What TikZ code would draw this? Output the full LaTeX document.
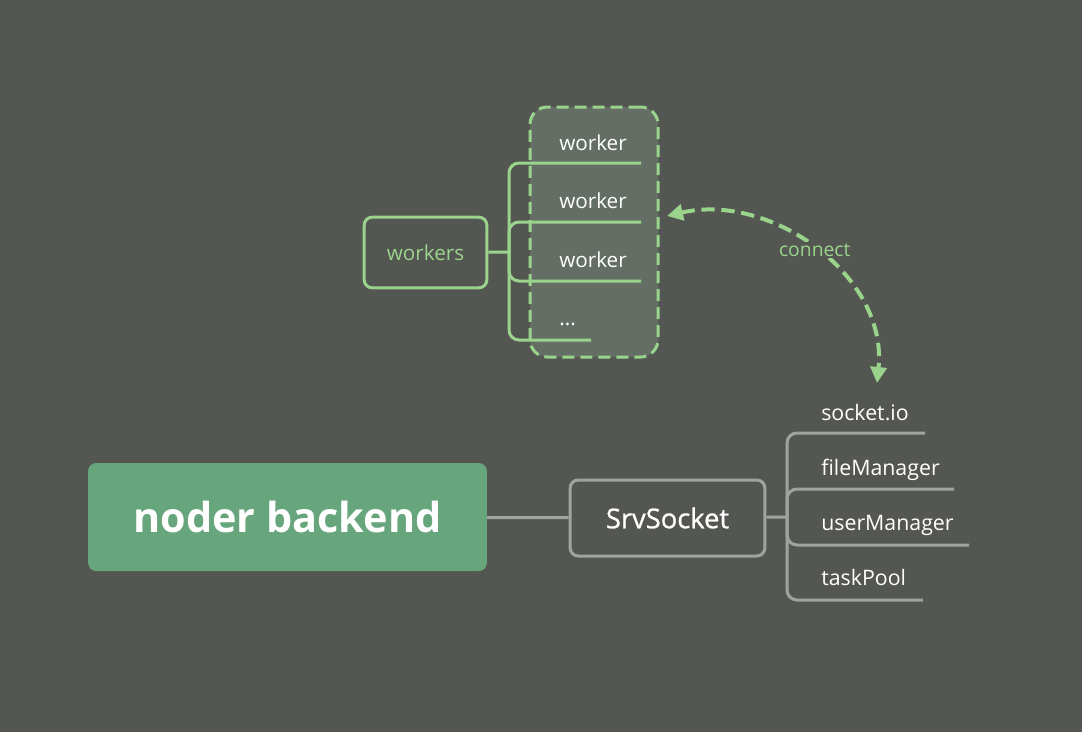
\documentclass[tikz,border=0pt]{standalone}
\usepackage{fontspec}
\setmainfont{Open Sans}
\newfontfamily\medfont{Open Sans}[FakeBold=0.8]
\usetikzlibrary{arrows.meta}
\definecolor{bg}{RGB}{84,86,82}
\definecolor{leafgreen}{RGB}{154,212,140}
\definecolor{maingreen}{RGB}{103,165,124}
\definecolor{branchgray}{RGB}{160,163,160}
\definecolor{poolfill}{RGB}{100,110,100}
\begin{document}
\begin{tikzpicture}[x=0.75pt,y=-0.75pt,
    root/.style={fill=maingreen,rounded corners=6pt,minimum width=299pt,minimum height=81pt,
      text=white,font=\bfseries\fontsize{31}{36}\selectfont},
    topic/.style={draw=#1,line width=2.25pt,rounded corners=6pt,inner sep=0pt},
    pool/.style={draw=leafgreen,fill=poolfill,line width=2.25pt,dash pattern=on 9pt off 4.5pt,
      rounded corners=13pt,minimum width=96pt,minimum height=187.5pt},
    leaf/.style={anchor=base west,text=white,inner sep=0pt,font=\fontsize{#1}{19}\selectfont},
    branch/.style={draw=#1,line width=2.25pt,rounded corners=7.5pt},
    conn/.style={draw=leafgreen,line width=3pt,dash pattern=on 10pt off 5pt,
      {Triangle[length=12pt,width=12pt]}-{Triangle[length=12pt,width=12pt]}}]
  \useasboundingbox[fill=bg] (0,0) rectangle (1082,732);
  \draw
    (594,232) node[pool] (pool){}
    (287.5,517) node[root] (root){noder backend}
    (667.5,518) node[topic=branchgray,minimum width=146pt,minimum height=57pt,text=white,
      font=\medfont\fontsize{20.5}{25}\selectfont] (srv){SrvSocket}
    (425.5,252.5) node[topic=leafgreen,minimum width=92pt,minimum height=53pt,text=leafgreen,
      font=\fontsize{15.5}{19}\selectfont] (workers){workers}
    (559,150) node[leaf=15.5] (w1){worker}
    (559,208) node[leaf=15.5] (w2){worker}
    (559,267) node[leaf=15.5] (w3){worker}
    (559,325) node[leaf=15.5] (w4){...}
    (821,420) node[leaf=16] (s1){socket.io}
    (821,475) node[leaf=16] (s2){fileManager}
    (821,530) node[leaf=16] (s3){userManager}
    (821,585) node[leaf=16] (s4){taskPool};
  \coordinate (wj) at (509,252);
  \coordinate (w1e) at (641,163);
  \coordinate (w2e) at (641,222);
  \coordinate (w3e) at (641,281);
  \coordinate (w4e) at (591,340);
  \coordinate (sj) at (787,517);
  \coordinate (s1e) at (925,433);
  \coordinate (s2e) at (954,489);
  \coordinate (s3e) at (969,545);
  \coordinate (s4e) at (923,600);
  \coordinate (ca) at (667,216);
  \coordinate (cb) at (877,383);
  \begin{scope}[-]
    \draw[branch=branchgray] (root) to (srv);
    \draw[branch=branchgray] (srv) to (sj);
    \foreach \e in {s1e,s2e,s3e,s4e}
      \draw[branch=branchgray] (sj) |- (\e);
    \draw[branch=leafgreen] (workers) to (wj);
    \foreach \e in {w1e,w2e,w3e,w4e}
      \draw[branch=leafgreen] (wj) |- (\e);
  \end{scope}
  \draw[conn] (ca) .. controls (770,192) and (888,275) .. (cb)
    node[pos=.5,fill=bg,inner sep=1.5pt,text=leafgreen,font=\fontsize{14.5}{17}\selectfont] (lbl){connect};
\end{tikzpicture}
\end{document}
